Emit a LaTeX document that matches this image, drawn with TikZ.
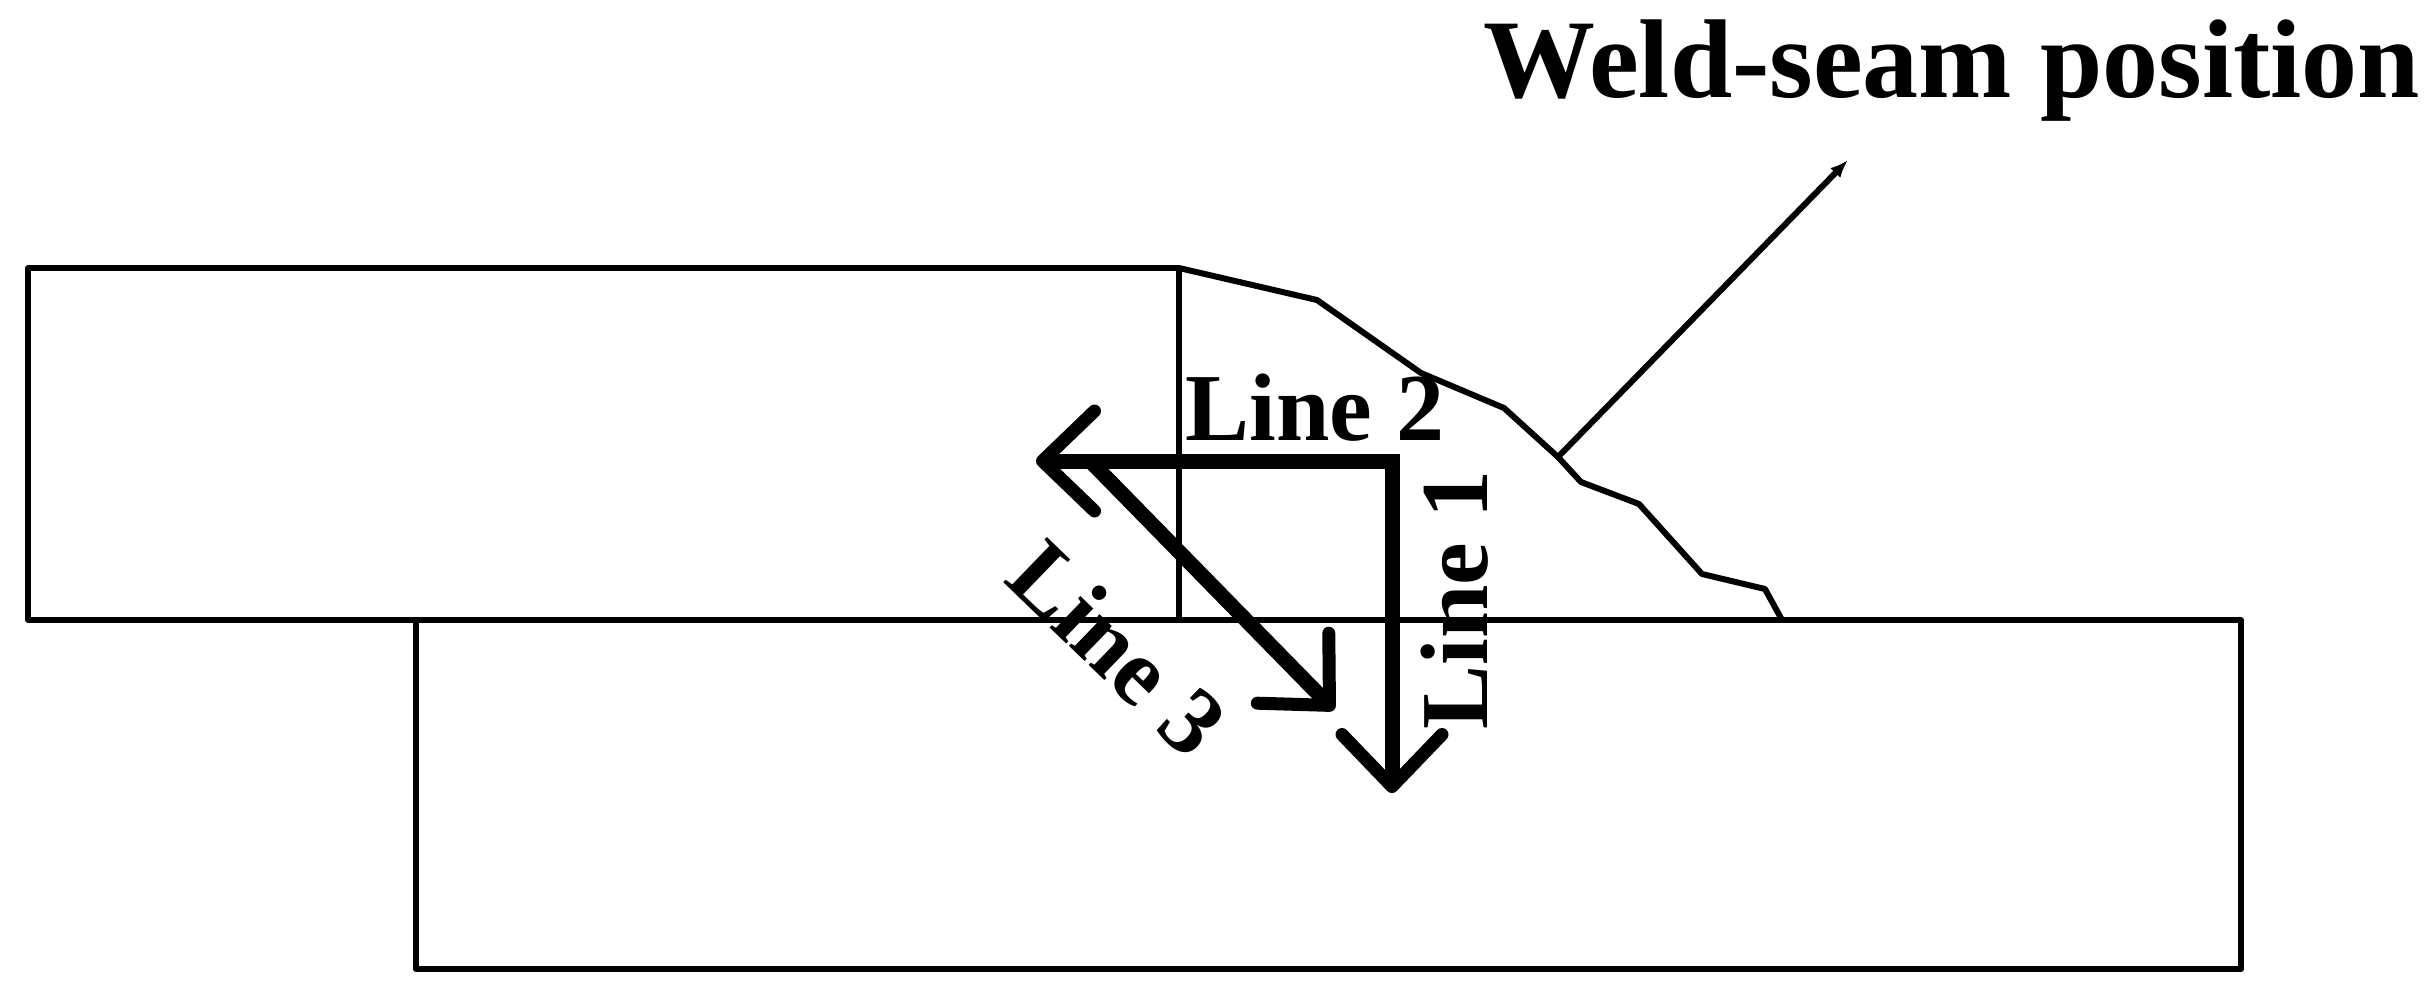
\documentclass[tikz,border=0pt]{standalone}
\usepackage{fontspec}
\setmainfont{Liberation Serif}
\usetikzlibrary{arrows.meta,positioning}
\tikzstyle{outline}=[draw,line width=3pt,line join=round]
\tikzstyle{scan}=[draw,line width=7.5pt,line cap=rect,-{Straight Barb[length=26pt,width=50pt,line width=6.5pt,round]}]
\tikzstyle{lbl}=[inner sep=0pt,font=\fontsize{48}{48}\selectfont\bfseries]
\begin{document}
\begin{tikzpicture}[x=0.5pt,y=-0.5pt]
\useasboundingbox (0,0) rectangle (2432,992);
% plates
\draw[outline] (28,620) rectangle (1179,268);
\draw[outline] (416,620) rectangle (2241,969);
\draw[outline] (1179,268) -- (1179,620);
% weld profile
\coordinate (seam) at (1558,457);
\draw[outline] (1179,268) -- (1317,300) -- (1421,373) -- (1504,408) -- (seam) -- (1581,482)
  -- (1639,504) -- (1702,574) -- (1765,589) -- (1782,620);
% scan lines
\coordinate (corner) at (1392,461);
\coordinate (tip1) at (1392,793);
\coordinate (tip2) at (1036,461);
\coordinate (start3) at (1098,469);
\coordinate (tip3) at (1334,710);
\draw[scan] (corner) -- (tip1);
\draw[scan] (corner) -- (tip2);
\draw[scan] (start3) -- (tip3);
% leader
\coordinate (leader) at (1848,160);
\node (title) [lbl,anchor=base west,font=\fontsize{56}{56}\selectfont\bfseries] at (1483,97) {Weld-seam position};
\draw[line width=3pt,-{Latex[length=9pt,width=7pt]}] (seam) -- (leader);
% labels
\node (l2) [lbl,anchor=base west] at (1185,440) {Line 2};
\node (l1) [lbl,anchor=base,rotate=90] at (1487,600) {Line 1};
\node (l3) [lbl,rotate=-44] at (1118,648) {Line 3};
\end{tikzpicture}
\end{document}
